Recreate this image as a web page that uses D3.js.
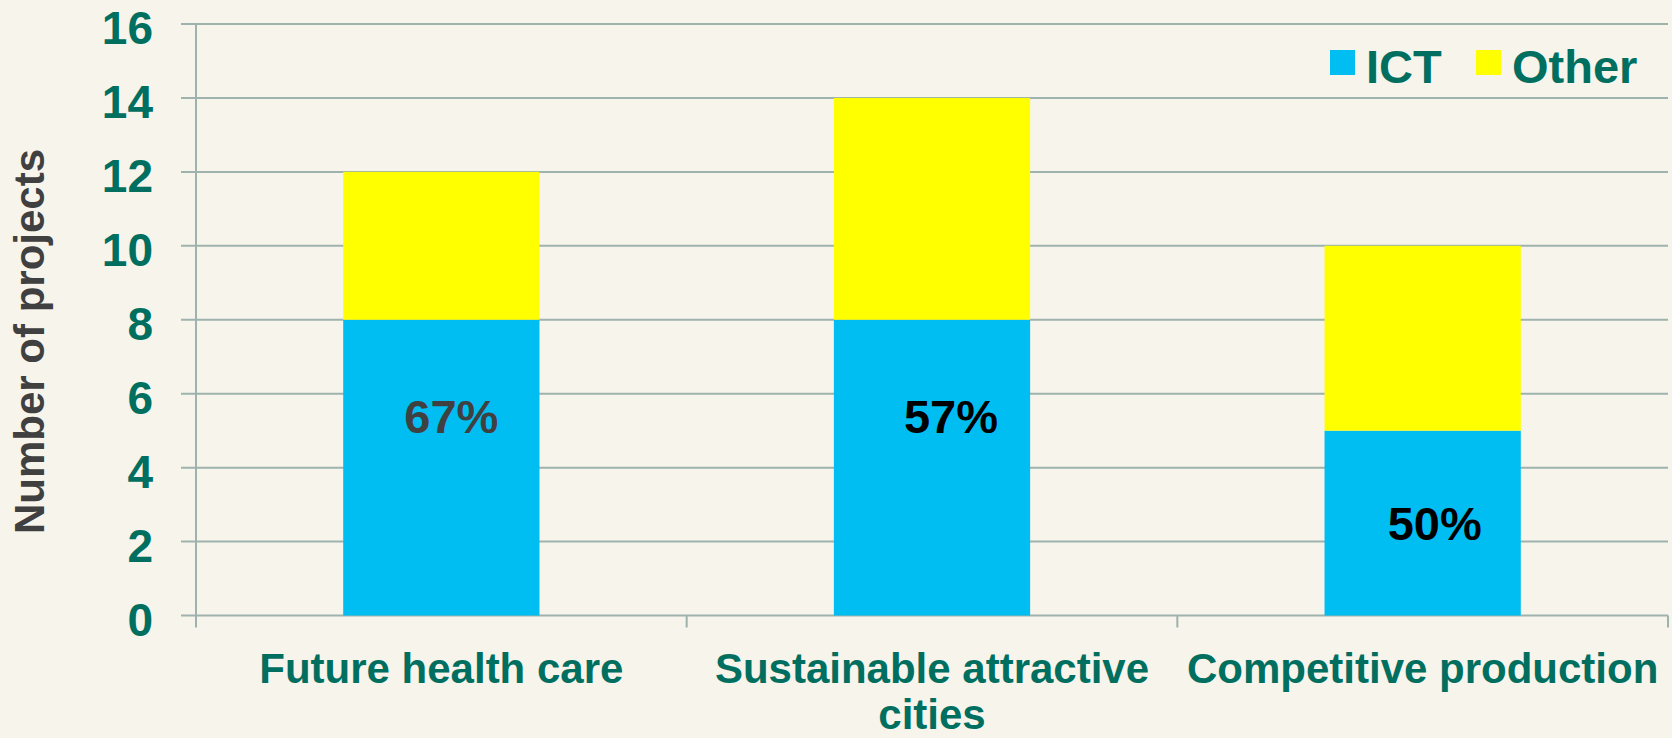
<!DOCTYPE html>
<html>
<head>
<meta charset="utf-8">
<script src="https://cdn.jsdelivr.net/npm/d3@7"></script>
<style>
  html, body { margin: 0; padding: 0; background: #F7F4EC; }
  svg { display: block; }
  text { font-family: "Liberation Sans", Arial, sans-serif; font-weight: bold; }
</style>
</head>
<body>
<svg id="chart" width="1672" height="738"></svg>
<script>
// ---- data ----
const categories = ["Future health care", "Sustainable attractive cities", "Competitive production"];
const ictValues = [8, 8, 5];
const otherValues = [4, 6, 5];
const pctLabels = ["67%", "57%", "50%"];
const seriesNames = ["ICT", "Other"];
const yTicks = [0, 2, 4, 6, 8, 10, 12, 14, 16];
const yTitle = "Number of projects";

// ---- styling ----
const W = 1672, H = 738;
const margin = { left: 196, right: 4, top: 24, bottom: 122.5 };
const teal = "#006F60";
const gridColor = "#9EB3AD";
const colors = { ICT: "#00BEF2", Other: "#FFFF00" };
const pctColors = ["#404040", "#000000", "#000000"];

const svg = d3.select("#chart");
svg.append("rect").attr("width", W).attr("height", H).attr("fill", "#F7F4EC");

const x = d3.scaleBand()
  .domain(categories)
  .range([margin.left, W - margin.right])
  .paddingInner(0.6).paddingOuter(0.3);

const y = d3.scaleLinear().domain([0, 16]).range([H - margin.bottom, margin.top]);

// gridlines + tick stubs
svg.append("g").selectAll("line").data(yTicks).join("line")
  .attr("x1", margin.left - 15).attr("x2", W - margin.right)
  .attr("y1", d => y(d)).attr("y2", d => y(d))
  .attr("stroke", gridColor).attr("stroke-width", 2);

// y axis line
svg.append("line")
  .attr("x1", margin.left).attr("x2", margin.left)
  .attr("y1", y(16)).attr("y2", y(0) + 12)
  .attr("stroke", gridColor).attr("stroke-width", 2);

// category boundary ticks
const bounds = d3.range(categories.length + 1).map(i => margin.left + (W - margin.right - margin.left) * i / categories.length);
svg.append("g").selectAll("line").data(bounds.slice(1)).join("line")
  .attr("x1", d => d).attr("x2", d => d)
  .attr("y1", y(0)).attr("y2", y(0) + 12)
  .attr("stroke", gridColor).attr("stroke-width", 2);

// y tick labels
svg.append("g").selectAll("text").data(yTicks).join("text")
  .attr("x", 153).attr("y", d => y(d) + 20)
  .attr("text-anchor", "end")
  .attr("font-size", 46).attr("fill", teal)
  .text(d => d);

// stacked bars
const rows = categories.map((c, i) => ({ cat: c, ICT: ictValues[i], Other: otherValues[i] }));
const stacked = d3.stack().keys(seriesNames)(rows);
svg.append("g").selectAll("g").data(stacked).join("g")
  .attr("fill", d => colors[d.key])
  .selectAll("rect").data(d => d).join("rect")
  .attr("x", d => x(d.data.cat))
  .attr("width", x.bandwidth())
  .attr("y", d => y(d[1]))
  .attr("height", d => y(d[0]) - y(d[1]));

// percentage labels
const labelAt = [5.4, 5.4, 2.5];
const labelDx = [10, 19, 12];
svg.append("g").selectAll("text").data(pctLabels).join("text")
  .attr("x", (d, i) => x(categories[i]) + x.bandwidth() / 2 + labelDx[i])
  .attr("y", (d, i) => y(labelAt[i]) + 17)
  .attr("text-anchor", "middle")
  .attr("font-size", 47)
  .attr("fill", (d, i) => pctColors[i])
  .text(d => d);

// category labels (wrapped like the original)
const catLines = [["Future health care"], ["Sustainable attractive", "cities"], ["Competitive production"]];
const catG = svg.append("g");
categories.forEach((c, i) => {
  const t = catG.append("text")
    .attr("x", x(c) + x.bandwidth() / 2)
    .attr("y", 683)
    .attr("text-anchor", "middle")
    .attr("font-size", 42).attr("fill", teal);
  catLines[i].forEach((ln, j) => {
    t.append("tspan").attr("x", x(c) + x.bandwidth() / 2).attr("dy", j === 0 ? 0 : 46).text(ln);
  });
});

// y title
svg.append("text")
  .attr("transform", "translate(44,341.5) rotate(-90)")
  .attr("text-anchor", "middle")
  .attr("font-size", 42).attr("fill", "#404040")
  .text(yTitle);

// legend
const legendX = [1330, 1476];
const lg = svg.append("g");
seriesNames.forEach((s, i) => {
  lg.append("rect").attr("x", legendX[i]).attr("y", 50).attr("width", 25).attr("height", 25).attr("fill", colors[s]);
  lg.append("text").attr("x", legendX[i] + 36).attr("y", 82.5)
    .attr("font-size", 47).attr("fill", teal).text(s);
});
</script>
</body>
</html>
